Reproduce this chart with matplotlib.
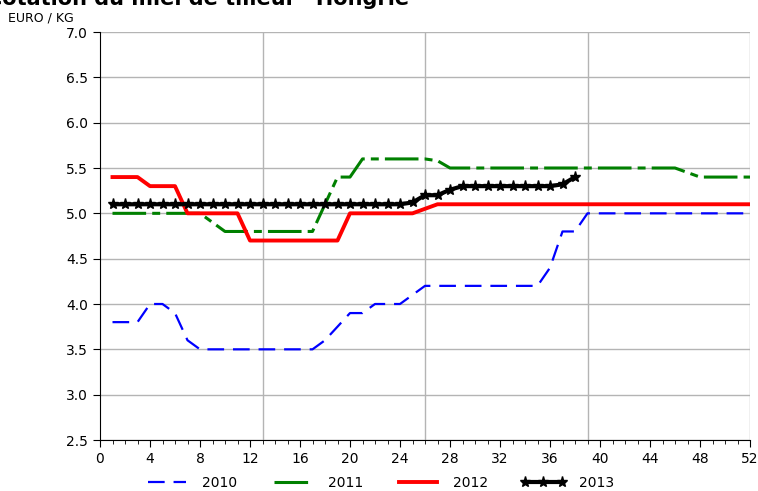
import matplotlib
matplotlib.use('Agg')
import matplotlib.pyplot as plt
import numpy as np

# semaines / cotations EURO/KG
w2010 = list(range(1, 53))
v2010 = [3.8,3.8,3.8,4.0,4.0,3.9,3.6,3.5,3.5,3.5,
         3.5,3.5,3.5,3.5,3.5,3.5,3.5,3.6,3.75,3.9,
         3.9,4.0,4.0,4.0,4.1,4.2,4.2,4.2,4.2,4.2,
         4.2,4.2,4.2,4.2,4.2,4.4,4.8,4.8,5.0,5.0,
         5.0,5.0,5.0,5.0,5.0,5.0,5.0,5.0,5.0,5.0,
         5.0,5.0]
w2011 = list(range(1, 53))
v2011 = [5.0,5.0,5.0,5.0,5.0,5.0,5.0,5.0,4.9,4.8,
         4.8,4.8,4.8,4.8,4.8,4.8,4.8,5.1,5.4,5.4,
         5.6,5.6,5.6,5.6,5.6,5.6,5.58,5.5,5.5,5.5,
         5.5,5.5,5.5,5.5,5.5,5.5,5.5,5.5,5.5,5.5,
         5.5,5.5,5.5,5.5,5.5,5.5,5.45,5.4,5.4,5.4,
         5.4,5.4]
w2012 = list(range(1, 53))
v2012 = [5.4,5.4,5.4,5.3,5.3,5.3,5.0,5.0,5.0,5.0,
         5.0,4.7,4.7,4.7,4.7,4.7,4.7,4.7,4.7,5.0,
         5.0,5.0,5.0,5.0,5.0,5.05,5.1,5.1,5.1,5.1,
         5.1,5.1,5.1,5.1,5.1,5.1,5.1,5.1,5.1,5.1,
         5.1,5.1,5.1,5.1,5.1,5.1,5.1,5.1,5.1,5.1,
         5.1,5.1]
w2013 = list(range(1, 39))
v2013 = [5.1,5.1,5.1,5.1,5.1,5.1,5.1,5.1,5.1,5.1,
         5.1,5.1,5.1,5.1,5.1,5.1,5.1,5.1,5.1,5.1,
         5.1,5.1,5.1,5.1,5.12,5.2,5.2,5.26,5.3,5.3,
         5.3,5.3,5.3,5.3,5.3,5.3,5.32,5.4]

xticks = np.arange(0, 53, 4)
yticks = np.arange(2.5, 7.01, 0.5)
vgrid = [13, 26, 39, 52]

fig = plt.figure(figsize=(7.58, 4.91), dpi=100)
ax = fig.add_axes([100/758., 1-440/491., 650/758., 408/491.])

for yy in yticks:
    ax.axhline(yy, color='#b4b4b4', lw=1.0, zorder=0)
for xx in vgrid:
    ax.axvline(xx, color='#b4b4b4', lw=1.0, zorder=0)

l1, = ax.plot(w2010, v2010, color='#0000ff', lw=1.6, dashes=(7.5, 4), label='2010')
l2, = ax.plot(w2011, v2011, color='#008000', lw=2.2, dashes=(11, 2, 2.6, 2), label='2011')
l3, = ax.plot(w2012, v2012, color='#ff0000', lw=2.8, label='2012')
l4, = ax.plot(w2013, v2013, color='black', lw=3.0, marker='*', ms=8, label='2013')

ax.set_xlim(0, 52)
ax.set_ylim(2.5, 7.0)
ax.set_xticks(xticks)
ax.set_xticks(np.arange(0, 53, 1), minor=True)
ax.set_yticks(yticks)
ax.set_yticklabels(['%.1f' % t for t in yticks])
ax.tick_params(axis='both', labelsize=10, direction='out', color='black')
ax.tick_params(axis='x', which='major', length=5)
ax.tick_params(axis='x', which='minor', length=3)
ax.tick_params(axis='y', length=5)
ax.spines['top'].set_visible(False)
ax.spines['right'].set_visible(False)

fig.text(8/758., 1-18/491., 'EURO / KG', fontsize=9, va='center', ha='left')
fig.text(-13/758., 1-5/491., 'Cotation du miel de tilleul - Hongrie',
         fontsize=15, fontweight='bold', ha='left', va='baseline')

leg = fig.legend(handles=[l1, l2, l3, l4], loc='center', bbox_to_anchor=(0.5, 1-483/491.),
                 ncol=4, frameon=False, fontsize=10, handlelength=3.3,
                 handletextpad=0.9, columnspacing=2.3, numpoints=3)

fig.savefig('out.png', dpi=100)
